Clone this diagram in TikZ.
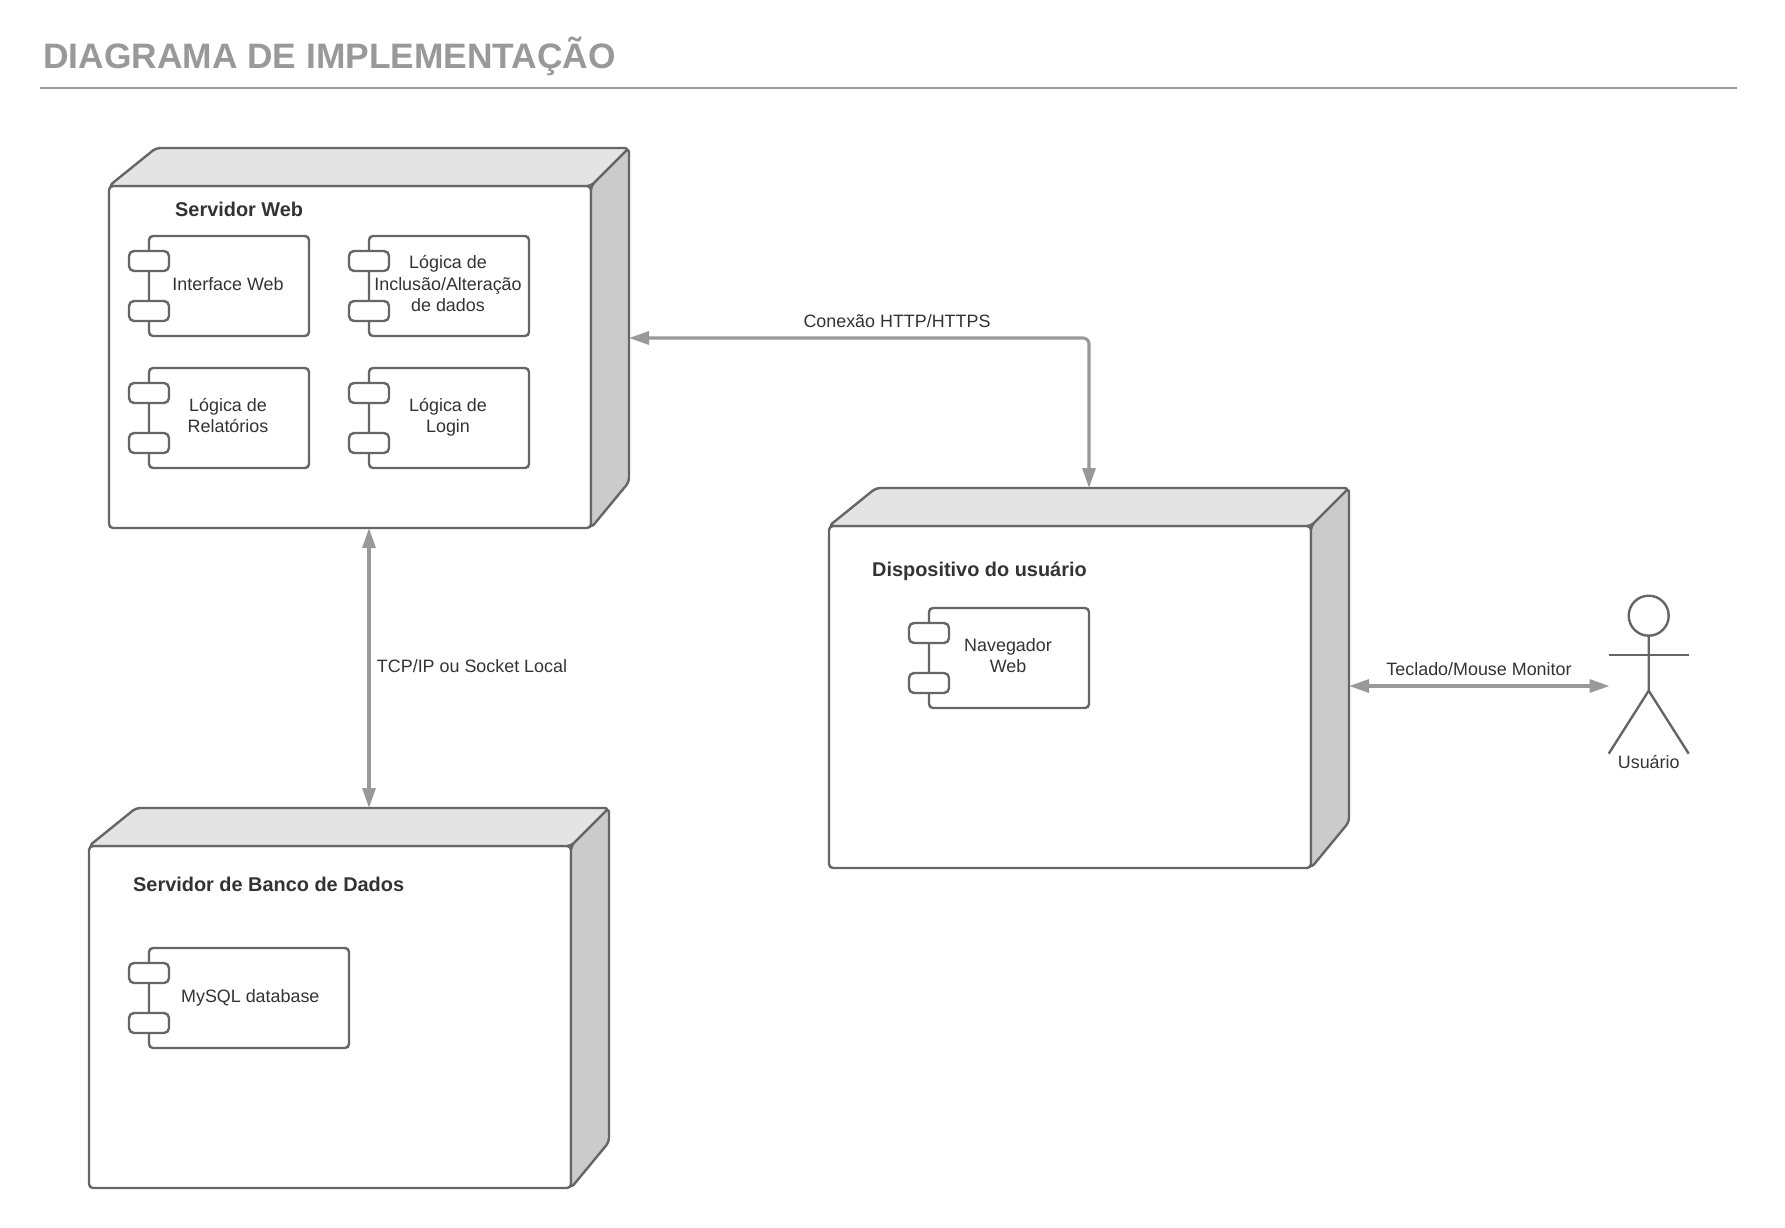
\documentclass[tikz,border=0pt]{standalone}
\usepackage{fontspec}
\setmainfont{Liberation Sans}
\usetikzlibrary{arrows.meta}
\definecolor{linegray}{HTML}{666666}
\definecolor{arrowgray}{HTML}{999999}
\definecolor{topgray}{HTML}{E4E4E4}
\definecolor{sidegray}{HTML}{CBCBCB}
\definecolor{textgray}{HTML}{333333}
\tikzset{
  nodebox/.style={anchor=north west,minimum width=520pt,minimum height=380pt,inner sep=0pt,outer sep=0pt},
  frontface/.style={draw=linegray,line width=2.4pt,fill=white,rounded corners=4pt,anchor=north west,minimum width=482pt,minimum height=342pt,inner sep=0pt,outer sep=0pt},
  sideface/.style={draw=linegray,line width=2.4pt,rounded corners=4pt,line join=round},
  compbody/.style={draw=linegray,line width=2.4pt,fill=white,rounded corners=4pt,anchor=north west,minimum height=100pt,inner sep=0pt,outer sep=0pt},
  compport/.style={draw=linegray,line width=2.4pt,fill=white,rounded corners=5pt,minimum width=40pt,minimum height=20pt,inner sep=0pt,outer sep=0pt},
  complabel/.style={inner sep=0pt,outer sep=0pt,align=center,text=textgray,font=\fontsize{17.9}{21.4}\selectfont},
  nodetitle/.style={anchor=west,inner sep=0pt,text=textgray,font=\fontsize{19.9}{24}\bfseries\selectfont},
  linklabel/.style={inner sep=0pt,text=textgray,font=\fontsize{17.9}{21.4}\selectfont},
  link/.style={draw=arrowgray,line width=3.1pt,{Triangle[length=20pt,width=13pt]}-{Triangle[length=20pt,width=13pt]}},
  stickman/.style={draw=linegray,line width=2.4pt}
}
\begin{document}
\begin{tikzpicture}[x=1pt,y=-1pt]
\useasboundingbox (0,0) rectangle (1785,1228);
% Title
\node[anchor=west,inner sep=0pt,text=arrowgray,font=\fontsize{35.35}{42}\bfseries\selectfont] (title) at (43,56.2) {DIAGRAMA DE IMPLEMENTAÇÃO};
\coordinate (ruleleft) at (40,88);
\coordinate (ruleright) at (1737,88);
\draw[arrowgray,line width=2pt] (ruleleft) -- (ruleright);
% Node boxes
\foreach \n/\x/\y in {web/109/148,device/829/488,db/89/808}{
  \node[nodebox] (\n) at (\x,\y) {};
  \node[frontface] (\n front) at (\x,\y+38) {};
  \draw[sideface,fill=topgray] (\n front.north west) -- ++(47,-38) -- (\n.north east) -- (\n front.north east) -- cycle;
  \draw[sideface,fill=sidegray] (\n front.north east) -- (\n.north east) -- (\n.east |- 0,\y+334) -- (\n front.south east) -- cycle;
}
% Node titles
\node[nodetitle] (webtitle) at (175,209.5) {Servidor Web};
\node[nodetitle] (devicetitle) at (872,571) {Dispositivo do usuário};
\node[nodetitle] (dbtitle) at (133,884.5) {Servidor de Banco de Dados};
% Components
\foreach \n/\x/\y/\w/\dx/\txt in {iface/149/236/160/-1/{\strut Interface Web},
    incl/369/236/160/-1/{\strut Lógica de\\\strut Inclusão/Alteração\\\strut de dados},
    rel/149/368/160/-1/{\strut Lógica de\\\strut Relatórios},
    login/369/368/160/-1/{\strut Lógica de\\\strut Login},
    nav/929/608/160/-1/{\strut Navegador\\\strut Web},
    mysql/149/948/200/1.3/{\strut MySQL database}}{
  \node[compbody,minimum width=\w pt] (\n) at (\x,\y) {};
  \node[compport] (\n top) at ([yshift=-25pt]\n.north west) {};
  \node[compport] (\n bottom) at ([yshift=-75pt]\n.north west) {};
  \node[complabel] (\n label) at ([xshift=\dx pt]\n.center) {\txt};
}
% Actor
\node[draw=linegray,line width=2.4pt,circle,minimum size=40pt,inner sep=0pt,outer sep=0pt] (head) at (1648.7,615.7) {};
\draw[stickman] (head.south) -- ++(0,55) coordinate (hip) -- ++(-40,63);
\draw[stickman] (hip) -- ++(40,63);
\draw[stickman] ([shift={(-40,19)}]head.south) -- ++(80,0);
\node[linklabel] (actorname) at (1648.7,761.7) {Usuário};
% Connectors
\coordinate (tecladoend) at (1609.5,686);
\draw[link,rounded corners=6pt] (web.east) -- (device.north |- web.east) -- (device.north);
\draw[link] (web.south) -- (web.south |- db.north);
\draw[link] (device.east |- tecladoend) -- (tecladoend);
% Labels
\node[linklabel] (httplabel) at (897,321) {Conexão HTTP/HTTPS};
\node[linklabel] (tcplabel) at (472,666) {TCP/IP ou Socket Local};
\node[linklabel] (tecladolabel) at (1479,669) {Teclado/Mouse Monitor};
\end{tikzpicture}
\end{document}
